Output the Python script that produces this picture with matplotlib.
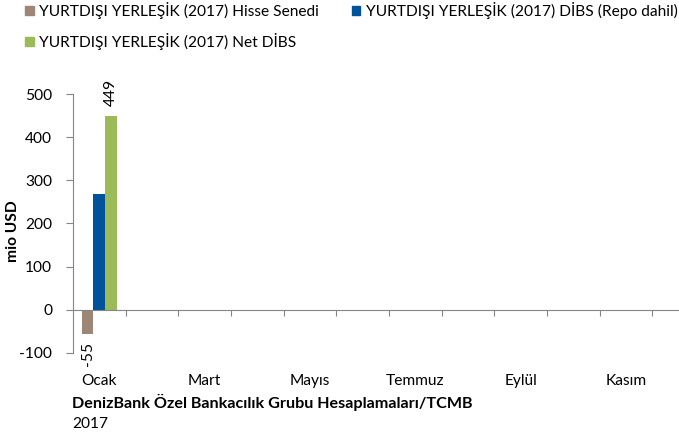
import numpy as np
import matplotlib.pyplot as plt
from matplotlib.patches import Patch

months = ["Ocak", "Şubat", "Mart", "Nisan", "Mayıs", "Haziran",
          "Temmuz", "Ağustos", "Eylül", "Ekim", "Kasım", "Aralık"]
hisse = [-55] + [np.nan] * 11
dibs = [268] + [np.nan] * 11
net_dibs = [449] + [np.nan] * 11
series_names = ["YURTDIŞI YERLEŞİK (2017) Hisse Senedi",
                "YURTDIŞI YERLEŞİK (2017) DİBS (Repo dahil)",
                "YURTDIŞI YERLEŞİK (2017) Net DİBS"]
colors = ["#9E8677", "#00539B", "#9BBB59"]

fs = 11.2
plt.rcParams["font.family"] = ["Lato", "DejaVu Sans"]
plt.rcParams["axes.unicode_minus"] = False
fig = plt.figure(figsize=(6.79, 4.36), dpi=100)
ax = fig.add_axes([73 / 679, 1 - 353 / 436, 632 / 679, 259 / 436])

x = np.arange(len(months))
w = 0.222
bars = []
for i, vals in enumerate([hisse, dibs, net_dibs]):
    b = ax.bar(x + (i - 1) * w, vals, w, color=colors[i], label=series_names[i])
    bars.append(b)

ax.bar_label(bars[0], labels=["-55"] + [""] * 11, rotation=90, padding=6, fontsize=fs)
ax.bar_label(bars[2], labels=["449"] + [""] * 11, rotation=90, padding=7, fontsize=fs)

ax.set_xlim(-0.5, 11.5)
ax.set_ylim(-100, 500)
ax.set_yticks(range(-100, 501, 100))
ax.tick_params(axis="y", labelsize=fs, length=5, color="#868686", pad=10)

for s in ["top", "right"]:
    ax.spines[s].set_visible(False)
ax.spines["left"].set_color("#868686")
ax.spines["bottom"].set_position(("data", 0))
ax.spines["bottom"].set_color("#868686")
ax.set_xticks(np.arange(0.5, 11, 1))
ax.tick_params(axis="x", length=4, color="#868686", labelbottom=False)

sec = ax.secondary_xaxis(0)
sec.set_xticks(x[::2], [months[i] for i in x[::2]])
sec.tick_params(length=0, labelsize=fs, pad=15, colors="#000000")
sec.spines["bottom"].set_visible(False)

ax.set_ylabel("mio USD", fontsize=fs, fontweight="bold")
ax.yaxis.set_label_coords(-53 / 632, 0.47)

# legend fills column by column: col 1 = Hisse, Net; col 2 = DİBS
order = [0, 2, 1]
fig.legend(handles=[Patch(color=colors[i]) for i in order],
           labels=[series_names[i] for i in order],
           loc="upper left", bbox_to_anchor=(25 / 679, 1 - 2 / 436), ncol=2, frameon=False,
           fontsize=fs, handlelength=0.55, handleheight=0.55, handletextpad=0.35,
           columnspacing=2.1, labelspacing=0.9, borderaxespad=0, borderpad=0)

fig.text(72 / 679, 1 - 402 / 436, "DenizBank Özel Bankacılık Grubu Hesaplamaları/TCMB",
         fontsize=11.6, fontweight="bold", va="center")
fig.text(72 / 679, 1 - 424 / 436, "2017", fontsize=fs, va="center")

fig.savefig("out.png", dpi=100)
